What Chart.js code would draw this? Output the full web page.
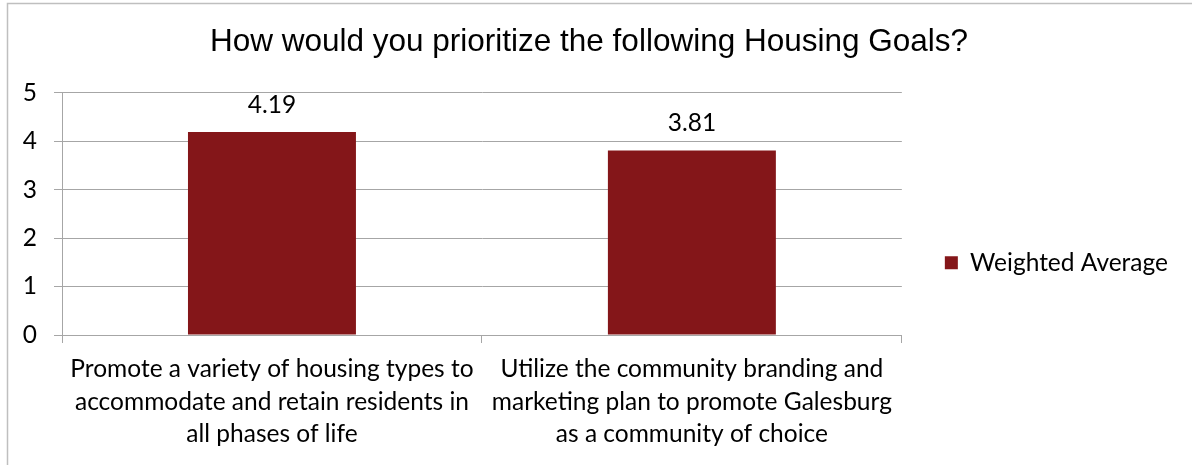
<!DOCTYPE html>
<html>
<head>
<meta charset="utf-8">
<script src="https://cdn.jsdelivr.net/npm/chart.js@4.4.0/dist/chart.umd.min.js"></script>
<style>
  body { margin: 0; background: #fff; }
  #wrap { width: 1192px; height: 465px; }
</style>
</head>
<body>
<div id="wrap"><canvas id="canva1" width="1192" height="465"></canvas></div>
<script>
// dados do grafico
var categorias = [
  ["Promote a variety of housing types to", "accommodate and retain residents in", "all phases of life"],
  ["Utilize the community branding and", "marketing plan to promote Galesburg", "as a community of choice"]
]
var mediaPonderada = [4.19, 3.81]
var nomeSerie = "Weighted Average"
var titulo = "How would you prioritize the following Housing Goals?"
var ticksY = [0, 1, 2, 3, 4, 5]

var fonteTexto = "Lato, 'Open Sans', sans-serif"
var tamFonte = 24.5

// moldura cinza e fundo branco
var moldura = {
  id: "moldura",
  beforeDraw: function(chart){
    var c = chart.ctx
    c.save()
    c.fillStyle = "#fff"
    c.fillRect(0, 0, chart.width, chart.height)
    c.strokeStyle = "#bfbfbf"
    c.lineWidth = 1.5
    c.strokeRect(7.5, 3.5, chart.width + 20, chart.height + 20)
    c.restore()
  }
}

// valores em cima das barras
var rotulos = {
  id: "rotulos",
  afterDatasetsDraw: function(chart){
    var c = chart.ctx
    var meta = chart.getDatasetMeta(0)
    c.save()
    c.fillStyle = "#000"
    c.font = tamFonte + "px " + fonteTexto
    c.textAlign = "center"
    c.textBaseline = "middle"
    for(var i = 0; i < meta.data.length; i++){
      var bar = meta.data[i]
      c.fillText(mediaPonderada[i].toFixed(2), bar.x, bar.y - 27)
    }
    c.restore()
  }
}

const config = {
  type: "bar",
  data: {
    labels: categorias,
    datasets: [{
      label: nomeSerie,
      data: mediaPonderada,
      backgroundColor: "#841619",
      borderWidth: 0,
      categoryPercentage: 1,
      barPercentage: 0.4
    }]
  },
  options: {
    responsive: false,
    animation: false,
    layout: { padding: { left: 0, right: 14, top: 0, bottom: 0 } },
    plugins: {
      title: {
        display: true,
        text: titulo,
        color: "#000",
        font: { family: "'Liberation Sans', Arial, sans-serif", size: 31.5, weight: "normal" },
        padding: { top: 23, bottom: 32 }
      },
      legend: {
        display: true,
        position: "right",
        align: "start",
        // titulo vazio so pra empurrar a legenda pra baixo
        title: { display: true, text: "", font: { size: 12 }, padding: { top: 193, bottom: 0 } },
        labels: {
          color: "#000",
          boxWidth: 13,
          boxHeight: 13,
          padding: 43,
          font: { family: fonteTexto, size: tamFonte }
        }
      },
      tooltip: { enabled: false }
    },
    scales: {
      x: {
        offset: true,
        grid: { offset: true, drawOnChartArea: false, drawTicks: true, tickLength: 8, color: "#a6a6a6" },
        border: { color: "#a6a6a6" },
        ticks: { color: "#000", padding: 10, maxRotation: 0, autoSkip: false, font: { family: fonteTexto, size: tamFonte, lineHeight: 1.33 } },
        afterFit: function(scale){ scale.height = 130 }
      },
      y: {
        min: 0,
        max: 5,
        grid: { color: "#a6a6a6", tickLength: 8 },
        border: { color: "#a6a6a6" },
        afterBuildTicks: function(scale){ scale.ticks = ticksY.map(function(v){ return { value: v } }) },
        ticks: { color: "#000", padding: 17, font: { family: fonteTexto, size: tamFonte } },
        afterFit: function(scale){ scale.width = 62 }
      }
    }
  },
  plugins: [moldura, rotulos]
}

const ctx = document.getElementById("canva1").getContext("2d")
window.chart = new Chart(ctx, config)
</script>
</body>
</html>
